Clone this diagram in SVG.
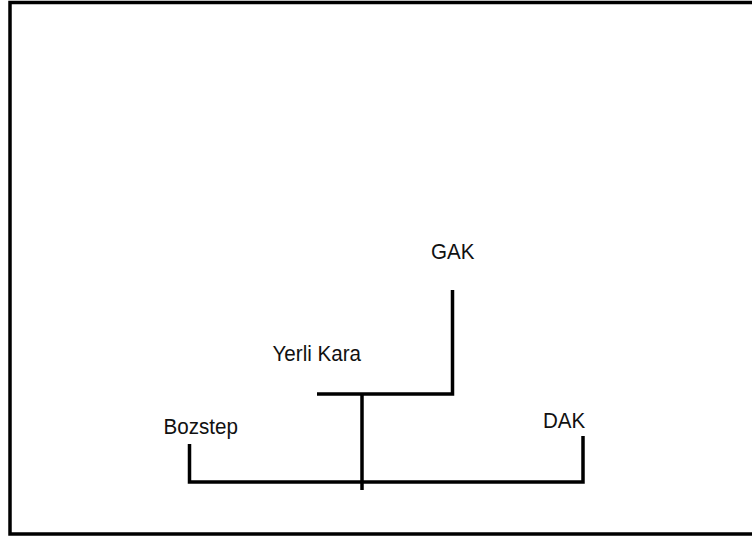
<svg xmlns="http://www.w3.org/2000/svg" width="752" height="538" viewBox="0 0 752 538">
<style>
.lbl{font-family:"Liberation Sans",Arial,sans-serif;font-size:20.6px;fill:#111}
.ln{stroke:#000;stroke-width:3.5;fill:none;stroke-linecap:butt}
</style>
<rect x="0" y="0" width="752" height="538" fill="#fff"/>
<rect x="10" y="2.5" width="760" height="531.5" fill="none" stroke="#000" stroke-width="3.5"/>
<g id="connectors">
<polyline class="ln" points="317,394 452.5,394 452.5,290"/>
<line class="ln" x1="362" y1="394" x2="362" y2="490"/>
<polyline class="ln" points="189.5,444 189.5,482 583,482 583,436"/>
</g>
<g id="gak"><text class="lbl" x="431" y="258.5" transform="translate(0,-25.8) scale(1,1.1)">GAK</text></g>
<g id="yerli-kara"><text class="lbl" x="272.5" y="361.5" transform="translate(0,-36.15) scale(1,1.1)">Yerli Kara</text></g>
<g id="bozstep"><text class="lbl" x="163.5" y="434.5" transform="translate(0,-43.45) scale(1,1.1)">Bozstep</text></g>
<g id="dak"><text class="lbl" x="543" y="428.5" transform="translate(0,-42.85) scale(1,1.1)">DAK</text></g>
</svg>
